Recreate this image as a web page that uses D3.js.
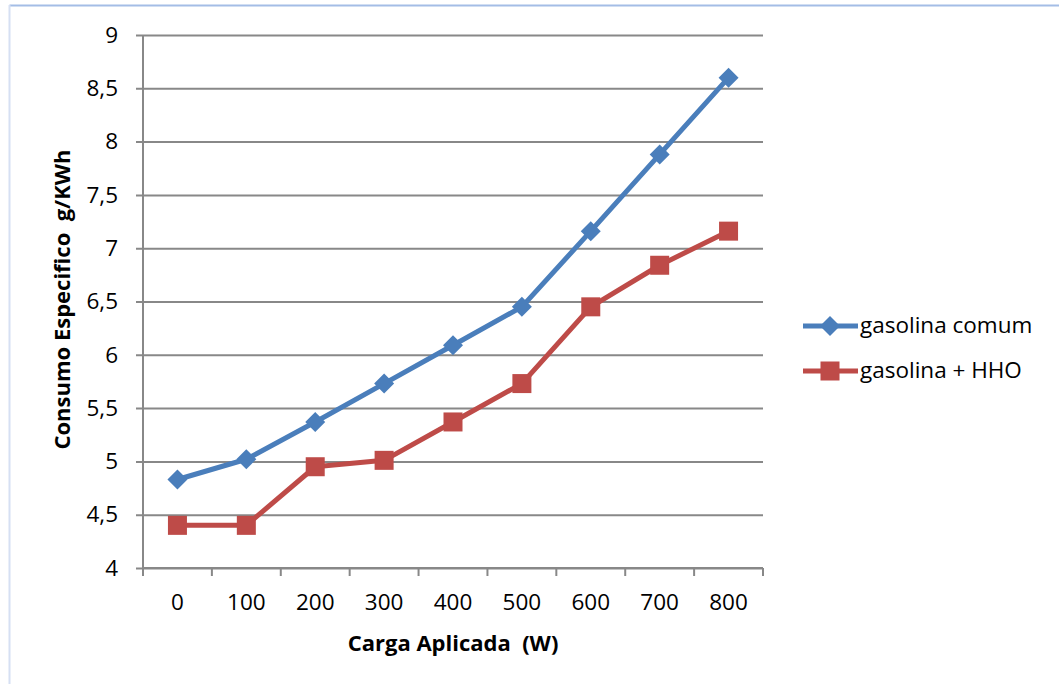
<!DOCTYPE html>
<html>
<head>
<meta charset="utf-8">
<script src="https://cdn.jsdelivr.net/npm/d3@7"></script>
<style>
  html, body { margin: 0; padding: 0; background: #fff; }
  svg { display: block; font-family: "Open Sans", sans-serif; }
</style>
</head>
<body>
<svg id="chart" width="1059" height="684"></svg>
<script>
// Load applied (W) vs specific consumption (g/KWh)
const categories = ["0", "100", "200", "300", "400", "500", "600", "700", "800"];
const gasolinaComum = [4.83, 5.02, 5.37, 5.73, 6.09, 6.45, 7.16, 7.88, 8.60];
const gasolinaHHO   = [4.40, 4.40, 4.95, 5.01, 5.37, 5.73, 6.45, 6.84, 7.16];
const yTicks = [4, 4.5, 5, 5.5, 6, 6.5, 7, 7.5, 8, 8.5, 9];
const seriesNames = ["gasolina comum", "gasolina + HHO"];

const FONT = "'Open Sans', Lato, sans-serif";
const FS = 22.5;      // tick and legend labels
const FS_TITLE = 22;  // axis titles

const svg = d3.select("#chart");
const plot = { left: 143, right: 763, top: 35, bottom: 568 };

// chart frame
svg.append("line").attr("x1", 9.5).attr("x2", 1059).attr("y1", 5.5).attr("y2", 5.5)
  .attr("stroke", "#a4bde6").attr("stroke-width", 2);
svg.append("line").attr("x1", 9.5).attr("x2", 9.5).attr("y1", 5).attr("y2", 684)
  .attr("stroke", "#d6e0f3").attr("stroke-width", 2);

const x = d3.scaleBand().domain(categories).range([plot.left, plot.right]);
const y = d3.scaleLinear().domain([4, 9]).range([plot.bottom, plot.top]);

// horizontal gridlines + y ticks
const yAxis = d3.axisLeft(y).tickValues(yTicks).tickSize(7)
  .tickFormat(d => String(d).replace(".", ","));
const gy = svg.append("g").attr("transform", `translate(${plot.left},0)`).call(yAxis);
gy.select(".domain").attr("stroke", "#888").attr("stroke-width", 2)
  .attr("d", `M0,${plot.top}V${plot.bottom}`);
gy.selectAll(".tick line").attr("stroke", "#888").attr("stroke-width", 2)
  .attr("x1", -7).attr("x2", plot.right - plot.left);
gy.selectAll(".tick text").attr("x", -25).attr("font-size", FS).attr("fill", "#000")
  .attr("font-family", FONT);

// x axis with ticks on band boundaries
const xAxis = d3.axisBottom(x).tickSize(0).tickPadding(26);
const gx = svg.append("g").attr("transform", `translate(0,${plot.bottom})`).call(xAxis);
gx.select(".domain").attr("stroke", "#888").attr("stroke-width", 2)
  .attr("d", `M${plot.left},0H${plot.right}`);
gx.selectAll(".tick text").attr("font-size", FS).attr("fill", "#000")
  .attr("font-family", FONT);
const bounds = categories.map(c => x(c)).concat([x(categories[categories.length - 1]) + x.bandwidth()]);
gx.selectAll(".bound").data(bounds).enter().append("line")
  .attr("x1", d => d).attr("x2", d => d).attr("y1", 0).attr("y2", 8)
  .attr("stroke", "#888").attr("stroke-width", 2);

// axis titles
svg.append("text").attr("x", (plot.left + plot.right) / 2).attr("y", 651)
  .attr("text-anchor", "middle").attr("font-size", FS_TITLE).attr("font-weight", "bold")
  .style("white-space", "pre")
  .text("Carga Aplicada  (W)");
svg.append("text").attr("transform", `translate(70,${(plot.top + plot.bottom) / 2 - 2}) rotate(-90)`)
  .attr("text-anchor", "middle").attr("font-size", FS_TITLE).attr("font-weight", "bold")
  .style("white-space", "pre")
  .text("Consumo Especifico  g/KWh");

const colors = ["#4a7ebb", "#be4b48"];
const series = [gasolinaComum, gasolinaHHO];
const cx = c => x(c) + x.bandwidth() / 2;
const line = d3.line().x((d, i) => cx(categories[i])).y(d => y(d));

const diamond = (g, px, py, s) => g.append("path")
  .attr("d", `M${px},${py - s}L${px + s},${py}L${px},${py + s}L${px - s},${py}Z`);
const square = (g, px, py, s) => g.append("rect")
  .attr("x", px - s).attr("y", py - s).attr("width", 2 * s).attr("height", 2 * s);
const markers = [(g, px, py) => diamond(g, px, py, 10), (g, px, py) => square(g, px, py, 9.5)];

series.forEach((vals, k) => {
  svg.append("path").datum(vals).attr("d", line)
    .attr("fill", "none").attr("stroke", colors[k]).attr("stroke-width", 5)
    .attr("stroke-linejoin", "round");
  const g = svg.append("g").attr("fill", colors[k]);
  vals.forEach((v, i) => markers[k](g, cx(categories[i]), y(v)));
});

// legend
const legendY = [326, 371];
seriesNames.forEach((name, k) => {
  const ly = legendY[k];
  svg.append("line").attr("x1", 803).attr("x2", 858).attr("y1", ly).attr("y2", ly)
    .attr("stroke", colors[k]).attr("stroke-width", 5);
  const g = svg.append("g").attr("fill", colors[k]);
  markers[k](g, 830, ly);
  svg.append("text").attr("x", 860).attr("y", ly + 7).attr("font-size", FS)
    .attr("font-family", FONT).attr("fill", "#000").text(name);
});
</script>
</body>
</html>
